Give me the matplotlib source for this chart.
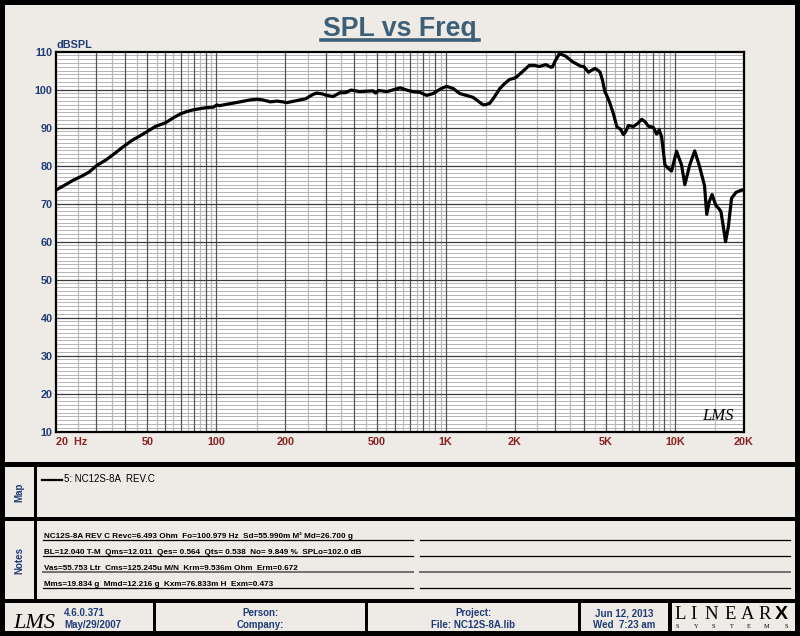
import numpy as np
import matplotlib
matplotlib.use("Agg")
import matplotlib.pyplot as plt
from matplotlib.patches import Rectangle
from matplotlib.lines import Line2D

plt.rcParams['font.family'] = ['Liberation Sans', 'DejaVu Sans']

# ---------------- data ----------------
freq = [20, 22, 23.8, 26, 28, 30, 33, 36, 39.3, 43, 46, 49.7, 54.2, 60, 65, 69.5, 74,
        79.2, 85, 90.7, 97, 100.6, 103, 112, 127, 140, 150, 160, 172, 184, 195, 203,
        215, 232, 245, 256, 265, 274, 290, 303, 323, 346, 365, 387, 422, 455, 482, 495,
        510, 555, 600, 634, 677, 720, 772, 826, 883, 950, 1009, 1080, 1151, 1230, 1316,
        1365, 1420, 1457, 1500, 1555, 1620, 1718, 1800, 1900, 1985, 2032, 2150, 2317,
        2450, 2560, 2735, 2878, 2923, 3000, 3124, 3200, 3340, 3570, 3874, 4000, 4196,
        4300, 4483, 4708, 4830, 4947, 5100, 5200, 5400, 5576, 5800, 5960, 6100, 6267,
        6588, 6900, 7160, 7400, 7655, 8045, 8318, 8540, 8747, 9040, 9350, 9665, 10160,
        10680, 11040, 11600, 12190, 12800, 13450, 13760, 14100, 14510, 15090, 15500,
        15850, 16200, 16620, 17100, 17640, 18460, 19580, 20000]
spl = [73.6, 75.0, 76.2, 77.3, 78.4, 80.0, 81.5, 83.2, 85.0, 86.7, 87.7, 88.9, 90.3,
       91.3, 92.6, 93.6, 94.2, 94.7, 95.0, 95.3, 95.4, 96.0, 95.8, 96.2, 96.8, 97.3,
       97.5, 97.3, 96.8, 97.0, 96.8, 96.6, 96.9, 97.3, 97.6, 98.3, 98.8, 99.1, 98.9,
       98.5, 98.2, 99.2, 99.2, 99.9, 99.5, 99.6, 99.7, 99.1, 99.8, 99.5, 100.1, 100.5,
       99.9, 99.5, 99.3, 98.5, 99.0, 100.2, 100.9, 100.3, 99.0, 98.5, 98.0, 97.3, 96.5,
       96.0, 96.1, 96.4, 97.8, 100.2, 101.5, 102.7, 103.0, 103.3, 104.6, 106.4, 106.4,
       106.1, 106.6, 105.9, 106.0, 107.5, 109.3, 109.3, 108.8, 107.4, 106.2, 106.1,
       104.6, 105.0, 105.6, 104.7, 102.5, 99.5, 97.8, 96.5, 93.5, 90.3, 89.5, 88.2,
       89.0, 90.6, 90.3, 91.2, 92.2, 91.6, 90.4, 90.1, 88.3, 89.4, 87.6, 80.2, 79.3,
       78.6, 83.8, 80.2, 75.0, 80.2, 83.9, 79.8, 74.8, 67.2, 70.5, 72.4, 69.5, 68.8,
       68.0, 64.5, 60.0, 64.0, 71.4, 73.0, 73.6, 73.6]

xtick_vals = [20, 50, 100, 200, 500, 1000, 2000, 5000, 10000, 20000]
xtick_labels = ["20  Hz", "50", "100", "200", "500", "1K", "2K", "5K", "10K", "20K"]
ytick_vals = [10, 20, 30, 40, 50, 60, 70, 80, 90, 100, 110]

notes_lines = [
    "NC12S-8A REV C Revc=6.493 Ohm  Fo=100.979 Hz  Sd=55.990m M\u00b2 Md=26.700 g",
    "BL=12.040 T-M  Qms=12.011  Qes= 0.564  Qts= 0.538  No= 9.849 %  SPLo=102.0 dB",
    "Vas=55.753 Ltr  Cms=125.245u M/N  Krm=9.536m Ohm  Erm=0.672",
    "Mms=19.834 g  Mmd=12.216 g  Kxm=76.833m H  Exm=0.473",
]
legend_label = "5: NC12S-8A  REV.C"

# ---------------- figure ----------------
W, H = 800, 636
BG = "#EEEBE6"
BLUE = "#1F3C78"
TITLE_C = "#3E5F78"
RED = "#8B2222"

fig = plt.figure(figsize=(W / 100, H / 100), dpi=100, facecolor="black")


def fx(x):
    return x / W


def fy(y):
    return 1 - y / H


def rect(x0, y0, x1, y1, color=BG, z=-5):
    fig.patches.append(Rectangle((fx(x0), fy(y1)), (x1 - x0) / W, (y1 - y0) / H,
                                 transform=fig.transFigure, facecolor=color,
                                 edgecolor="none", zorder=z))


def hline(x0, x1, y, color="black", lw=1.0):
    fig.lines.append(Line2D([fx(x0), fx(x1)], [fy(y), fy(y)], transform=fig.transFigure,
                            color=color, linewidth=lw))


def txt(x, y, s, **kw):
    fig.text(fx(x), fy(y), s, **kw)


# panels
rect(5, 5, 795, 462)
rect(5, 467, 34, 517)
rect(37, 467, 795, 517)
rect(5, 521, 34, 599)
rect(37, 521, 795, 599)
rect(5, 603, 153, 631)
rect(156, 603, 365, 631)
rect(368, 603, 578, 631)
rect(581, 603, 668, 631)
rect(672, 603, 795, 631)

# title
txt(400, 35.5, "SPL vs Freq", ha="center", va="baseline", fontsize=19.3,
    fontweight="bold", color=TITLE_C)
hline(321, 479, 39.8, color=TITLE_C, lw=2.6)

# ---------------- plot area ----------------
x0p, x1p, y0p, y1p = 56, 744, 51.7, 431.7
ax = fig.add_axes([fx(x0p), fy(y1p), (x1p - x0p) / W, (y1p - y0p) / H])
ax.set_zorder(2)
ax.set_facecolor("white")
ax.set_xscale("log")
ax.set_xlim(20, 20000)
ax.set_ylim(10, 110)

# grid
for dec in [10, 100, 1000, 10000]:
    for m in (np.arange(2.5, 10.01, 0.5) if dec == 10 else np.arange(1.5, 10.01, 0.5)):
        f = m * dec
        if f <= 20 or f >= 20000:
            continue
        if abs(m - round(m)) < 1e-6:
            ax.axvline(f, color="#555555", lw=0.9, zorder=1)
        else:
            ax.axvline(f, color="#BBBBBB", lw=0.9, zorder=0.9)
for d in range(11, 110):
    if d % 10 == 0:
        ax.axhline(d, color="#3A3A3A", lw=0.9, zorder=1)
    else:
        ax.axhline(d, color="#B4B4B4", lw=0.7, zorder=0.9)

ax.plot(freq, spl, color="black", lw=2.3, zorder=3, solid_joinstyle="round")

for s in ax.spines.values():
    s.set_linewidth(1.6)
    s.set_color("black")
    s.set_zorder(4)

ax.set_xticks(xtick_vals)
ax.set_xticklabels(xtick_labels)
ax.xaxis.set_minor_locator(matplotlib.ticker.NullLocator())
ax.set_yticks(ytick_vals)
ax.set_yticklabels([str(v) for v in ytick_vals])
ax.tick_params(axis="x", length=0, pad=4, labelsize=7.8, labelcolor=RED)
ax.tick_params(axis="y", length=0, pad=2.5, labelsize=7.8, labelcolor=BLUE)
for lab in ax.get_xticklabels() + ax.get_yticklabels():
    lab.set_fontweight("bold")
ax.get_xticklabels()[0].set_ha("left")

txt(57, 47.5, "dBSPL", ha="left", va="baseline", fontsize=7.8, fontweight="bold", color=BLUE)

# in-plot signature
ax.text(0.985, 0.02, "LMS", transform=ax.transAxes, ha="right", va="bottom",
        fontsize=12, fontstyle="italic", family="Liberation Serif", color="black", zorder=5)

# ---------------- map panel ----------------
txt(19.5, 492, "Map", rotation=90, ha="center", va="center", fontsize=7,
    fontweight="bold", color=BLUE)
hline(42, 62, 479.5, color="black", lw=1.6)
txt(64, 479.5, legend_label, ha="left", va="center", fontsize=7, color="black")

# ---------------- notes panel ----------------
txt(19.5, 560, "Notes", rotation=90, ha="center", va="center", fontsize=7,
    fontweight="bold", color=BLUE)
line_ys = [539.5, 555.7, 572.0, 588.0]
for i, (ly, s) in enumerate(zip(line_ys, notes_lines)):
    c = "#707070" if i == 2 else "black"
    lw = 1.4 if i == 2 else 0.9
    hline(43, 413, ly, color=c, lw=lw)
    hline(420, 790, ly, color=c, lw=lw)
    txt(44, ly - 1.8, s, ha="left", va="baseline", fontsize=5.9, fontweight="bold",
        color="black")

# ---------------- footer ----------------
txt(13, 628, "LMS", ha="left", va="baseline", fontsize=16, fontstyle="italic",
    family="Liberation Serif", color="black")
txt(64, 613, "4.6.0.371", ha="left", va="center", fontsize=7, fontweight="bold", color=BLUE)
txt(64, 624.5, "May/29/2007", ha="left", va="center", fontsize=7, fontweight="bold", color=BLUE)
txt(260.5, 613, "Person:", ha="center", va="center", fontsize=7, fontweight="bold", color=BLUE)
txt(260.5, 624.5, "Company:", ha="center", va="center", fontsize=7, fontweight="bold", color=BLUE)
txt(473, 613, "Project:", ha="center", va="center", fontsize=7, fontweight="bold", color=BLUE)
txt(473, 624.5, "File: NC12S-8A.lib", ha="center", va="center", fontsize=7, fontweight="bold", color=BLUE)
txt(624.5, 613, "Jun 12, 2013", ha="center", va="center", fontsize=7, fontweight="bold", color=BLUE)
txt(624.5, 624.5, "Wed  7:23 am", ha="center", va="center", fontsize=7, fontweight="bold", color=BLUE)

for ch, cx in zip("LINEAR", [680, 693, 711.7, 730, 748, 765]):
    txt(cx, 619, ch, ha="center", va="baseline", fontsize=13.5, family="Liberation Serif",
        color="black")
txt(781.7, 619, "X", ha="center", va="baseline", fontsize=14, fontweight="bold",
    family="Liberation Sans", color="black")
for ch, cx in zip("SYSTEMS", [677.7, 695.7, 713.3, 732, 749, 767, 786.7]):
    txt(cx, 626, ch, ha="center", va="center", fontsize=4.5, family="Liberation Serif",
        color="black")

fig.savefig("out.png", dpi=100, facecolor="black")
